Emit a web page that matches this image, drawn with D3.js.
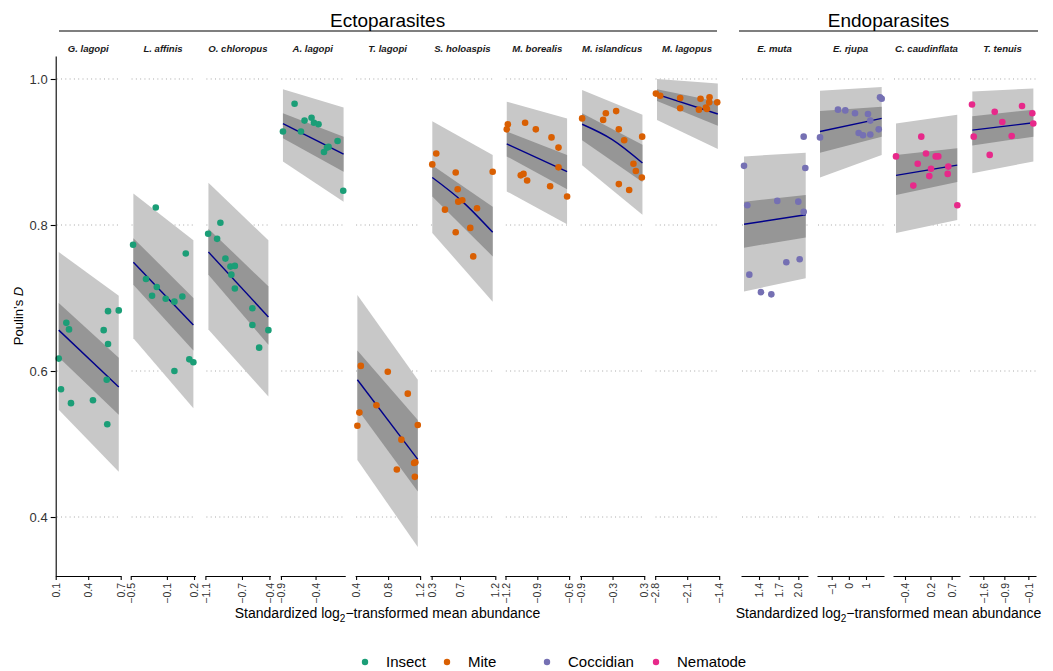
<!DOCTYPE html>
<meta charset="utf-8">
<script src="https://cdn.jsdelivr.net/npm/d3@7/dist/d3.min.js"></script>
<style>
  body { margin: 0; background: #fff; }
  text { font-family: "Liberation Sans", Arial, sans-serif; }
</style>
<svg width="1053" height="671"></svg>
<script>
// panels, left to right
var species = ["G. lagopi", "L. affinis", "O. chloropus", "A. lagopi", "T. lagopi",
  "S. holoaspis", "M. borealis", "M. islandicus", "M. lagopus",
  "E. muta", "E. rjupa", "C. caudinflata", "T. tenuis"];
var groups = ["Ectoparasites", "Endoparasites"];
var panelGroup = [0, 0, 0, 0, 0, 0, 0, 0, 0, 1, 1, 1, 1];
var parasite = ["Insect", "Insect", "Insect", "Insect", "Mite", "Mite", "Mite", "Mite", "Mite",
  "Coccidian", "Coccidian", "Nematode", "Nematode"];
var types = ["Insect", "Mite", "Coccidian", "Nematode"];
var typeColors = ["#1B9E77", "#D95F02", "#7570B3", "#E7298A"];

// x limits of every panel (free scales)
var xLimits = [[0.1, 0.7], [-0.502, 0.217], [-1.1, -0.389], [-0.91, 0.029], [0.3875, 1.2],
  [0.276, 1.195], [-1.2066, -0.5934], [-0.923, 0.308], [-2.815, -1.393],
  [1.125, 2.148], [-1.857, 2.05], [-0.683, 0.897], [-2.078, 0.155]];
var xTicks = [["0.1", "0.4", "0.7"], ["-0.5", "-0.1", "0.2"], ["-1.1", "-0.7", "-0.4"], ["-0.9", "-0.4"],
  ["0.4", "0.8", "1.2"], ["0.3", "0.7", "1.2"], ["-1.2", "-0.9", "-0.6"], ["-0.9", "-0.3", "0.3"],
  ["-2.8", "-2.1", "-1.4"], ["1.4", "1.7", "2.0"], ["-1", "0", "1"], ["-0.4", "0.2", "0.7"],
  ["-1.6", "-0.9", "-0.1"]];
var yTicks = [0.4, 0.6, 0.8, 1.0];

// fitted line and intervals, at first and last abundance
var bandX = [[0.128, 0.682], [-0.471, 0.193], [-1.067, -0.411], [-0.871, 0.005], [0.416, 1.171],
  [0.309, 1.163], [-1.188, -0.619], [-0.876, 0.266], [-2.76, -1.43],
  [1.171, 2.113], [-1.682, 1.915], [-0.612, 0.832], [-1.967, 0.067]];
var fit = [[0.656, 0.578], [0.749, 0.663], [0.763, 0.674], [0.939, 0.897], [0.588, 0.479],
  [0.865, 0.790], [0.911, 0.873], [0.938, 0.885], [0.979, 0.952],
  [0.801, 0.814], [0.928, 0.946], [0.868, 0.882], [0.930, 0.940]];
// fitted value half way, where the line bends
var fitBend = [null, null, null, null, null, 0.832, null, 0.917, null, null, null, null, null];
var ciLo = [[0.619, 0.540], [0.718, 0.628], [0.732, 0.636], [0.919, 0.873], [0.548, 0.435],
  [0.839, 0.757], [0.894, 0.849], [0.916, 0.859], [0.970, 0.936],
  [0.769, 0.783], [0.899, 0.921], [0.841, 0.859], [0.909, 0.921]];
var ciHi = [[0.693, 0.618], [0.782, 0.700], [0.795, 0.716], [0.953, 0.921], [0.628, 0.533],
  [0.882, 0.825], [0.928, 0.896], [0.953, 0.910], [0.986, 0.969],
  [0.832, 0.841], [0.956, 0.962], [0.896, 0.905], [0.949, 0.958]];
var piLo = [[0.547, 0.462], [0.645, 0.549], [0.657, 0.565], [0.887, 0.832], [0.478, 0.359],
  [0.789, 0.695], [0.846, 0.801], [0.882, 0.814], [0.944, 0.904],
  [0.709, 0.727], [0.865, 0.896], [0.789, 0.807], [0.871, 0.887]];
var piHi = [[0.763, 0.703], [0.843, 0.779], [0.858, 0.779], [0.986, 0.961], [0.704, 0.588],
  [0.942, 0.896], [0.969, 0.946], [0.985, 0.951], [1.0, 0.994],
  [0.894, 0.899], [0.984, 0.989], [0.939, 0.951], [0.983, 0.987]];

// observed values [abundance, D]
var ptsGLagopi = [[0.128, 0.617], [0.149, 0.575], [0.198, 0.666], [0.223, 0.657], [0.241, 0.556], [0.444, 0.560],
  [0.543, 0.656], [0.583, 0.682], [0.583, 0.637], [0.571, 0.588], [0.576, 0.527], [0.682, 0.683]];
var ptsLAffinis = [[-0.474, 0.773], [-0.223, 0.824], [-0.331, 0.726], [-0.212, 0.715], [-0.264, 0.703], [-0.113, 0.699],
  [-0.017, 0.695], [0.071, 0.702], [0.109, 0.761], [-0.017, 0.600], [0.148, 0.616], [0.193, 0.612]];
var ptsOChloropus = [[-1.070, 0.788], [-0.972, 0.781], [-0.936, 0.803], [-0.881, 0.754], [-0.826, 0.743], [-0.778, 0.744],
  [-0.816, 0.732], [-0.778, 0.713], [-0.586, 0.686], [-0.586, 0.663], [-0.411, 0.656], [-0.512, 0.632]];
var ptsALagopi = [[-0.871, 0.928], [-0.703, 0.966], [-0.611, 0.928], [-0.559, 0.943], [-0.458, 0.947], [-0.423, 0.940],
  [-0.357, 0.938], [-0.278, 0.900], [-0.235, 0.906], [-0.212, 0.907], [-0.082, 0.915], [0.0, 0.847]];
var ptsTLagopi = [[0.459, 0.607], [0.796, 0.599], [1.046, 0.569], [0.441, 0.543], [0.416, 0.525], [0.654, 0.553],
  [1.171, 0.526], [0.966, 0.506], [1.125, 0.474], [1.141, 0.475], [0.909, 0.465], [1.134, 0.455]];
var ptsSHoloaspis = [[0.365, 0.898], [0.309, 0.883], [0.640, 0.872], [1.163, 0.873], [0.668, 0.849], [0.676, 0.832],
  [0.733, 0.834], [0.488, 0.821], [0.941, 0.823], [0.846, 0.796], [0.640, 0.790], [0.888, 0.757]];
var ptsMBorealis = [[-1.178, 0.938], [-1.188, 0.931], [-1.015, 0.940], [-0.914, 0.931], [-0.766, 0.920], [-0.700, 0.906],
  [-0.700, 0.879], [-1.056, 0.868], [-1.030, 0.870], [-0.996, 0.861], [-0.779, 0.853], [-0.619, 0.839]];
var ptsMIslandicus = [[-0.876, 0.946], [-0.478, 0.944], [-0.427, 0.953], [-0.232, 0.956], [-0.181, 0.931], [-0.080, 0.916],
  [0.261, 0.921], [0.096, 0.884], [0.141, 0.874], [0.255, 0.865], [-0.181, 0.856], [0.015, 0.848]];
var ptsMLagopus = [[-2.784, 0.980], [-2.690, 0.977], [-2.253, 0.974], [-2.253, 0.960], [-1.808, 0.973], [-1.611, 0.975],
  [-1.618, 0.968], [-1.690, 0.961], [-1.843, 0.958], [-1.443, 0.968], [-1.668, 0.959]];
var ptsEMuta = [[1.171, 0.881], [1.221, 0.827], [1.252, 0.732], [1.430, 0.708], [1.588, 0.705], [1.679, 0.833],
  [1.817, 0.749], [2.000, 0.832], [2.021, 0.753], [2.082, 0.818], [2.107, 0.878], [2.082, 0.921]];
var ptsERjupa = [[-1.682, 0.920], [-0.633, 0.958], [-0.207, 0.957], [0.359, 0.953], [1.117, 0.952], [1.251, 0.943],
  [0.574, 0.926], [0.825, 0.923], [1.251, 0.924], [1.741, 0.931], [1.817, 0.975], [1.916, 0.973]];
var ptsCCaudinflata = [[-0.612, 0.894], [-0.016, 0.921], [0.095, 0.898], [0.324, 0.894], [0.385, 0.894], [-0.100, 0.884],
  [0.213, 0.877], [0.173, 0.867], [0.621, 0.880], [0.607, 0.870], [-0.204, 0.854], [0.834, 0.827]];
var ptsTTenuis = [[-1.978, 0.965], [-1.921, 0.921], [-1.388, 0.896], [-1.221, 0.955], [-0.968, 0.941], [-0.655, 0.922],
  [-0.311, 0.963], [0.032, 0.953], [0.065, 0.939]];
var points = [ptsGLagopi, ptsLAffinis, ptsOChloropus, ptsALagopi, ptsTLagopi, ptsSHoloaspis, ptsMBorealis,
  ptsMIslandicus, ptsMLagopus, ptsEMuta, ptsERjupa, ptsCCaudinflata, ptsTTenuis];

var svg = d3.select("svg");

// layout of the two facet blocks
var blocks = [
  { left: 55.7, step: 74.85, width: 65, lineFrom: 59, lineTo: 717 },
  { left: 741, step: 76, width: 67, lineFrom: 739, lineTo: 1038 }
];
var panelTop = 56, panelBottom = 576;

var y = d3.scaleLinear().domain([0.3192, 1.0315]).range([panelBottom, panelTop]);
var color = d3.scaleOrdinal().domain(types).range(typeColors);
var minus = function(s) { return s.replace("-", "\u2212"); };

var counter = [0, 0];

species.forEach(function(name, i) {
  var b = blocks[panelGroup[i]],
    k = counter[panelGroup[i]]++,
    x0 = b.left + k * b.step,
    x = d3.scaleLinear().domain(xLimits[i]).range([x0, x0 + b.width]);

  var g = svg.append("g");

  //grid
  g.selectAll("line.grid")
    .data(yTicks)
    .enter()
    .append("line")
    .attr("x1", x0 + 1)
    .attr("x2", x0 + b.width)
    .attr("y1", function(d) { return y(d); })
    .attr("y2", function(d) { return y(d); })
    .attr("stroke", "#a8a8a8")
    .attr("stroke-width", 1)
    .attr("stroke-dasharray", "1,3.3");

  var band = bandX[i].map(function(v, j) {
    return { x: v, piLo: piLo[i][j], piHi: piHi[i][j], ciLo: ciLo[i][j], ciHi: ciHi[i][j] };
  });

  //prediction interval
  g.append("path")
    .datum(band)
    .attr("fill", "#c8c8c8")
    .attr("d", d3.area()
      .x(function(d) { return x(d.x); })
      .y0(function(d) { return y(d.piLo); })
      .y1(function(d) { return y(d.piHi); }));

  //confidence interval
  g.append("path")
    .datum(band)
    .attr("fill", "#969696")
    .attr("d", d3.area()
      .x(function(d) { return x(d.x); })
      .y0(function(d) { return y(d.ciLo); })
      .y1(function(d) { return y(d.ciHi); }));

  //fitted line
  var fitPts = [[bandX[i][0], fit[i][0]]];
  if (fitBend[i] != null) fitPts.push([(bandX[i][0] + bandX[i][1]) / 2, fitBend[i]]);
  fitPts.push([bandX[i][1], fit[i][1]]);
  g.append("path")
    .datum(fitPts)
    .attr("fill", "none")
    .attr("stroke", "#00008B")
    .attr("stroke-width", 1.4)
    .attr("d", d3.line()
      .curve(d3.curveNatural)
      .x(function(d) { return x(d[0]); })
      .y(function(d) { return y(d[1]); }));

  //observations
  g.selectAll("circle")
    .data(points[i])
    .enter()
    .append("circle")
    .attr("cx", function(d) { return x(d[0]); })
    .attr("cy", function(d) { return y(d[1]); })
    .attr("r", 3.3)
    .attr("fill", color(parasite[i]));

  //strip label
  g.append("text")
    .attr("x", x0 + b.width / 2)
    .attr("y", 52)
    .attr("text-anchor", "middle")
    .style("font-size", "9.6px")
    .style("font-weight", "bold")
    .style("font-style", "italic")
    .attr("fill", "#1a1a1a")
    .text(name);

  //x axis
  var ax = g.append("g")
    .attr("transform", "translate(0," + panelBottom + ")")
    .call(d3.axisBottom(x)
      .tickValues(xTicks[i].map(Number))
      .tickFormat(function(d, j) { return minus(xTicks[i][j]); })
      .tickSize(4)
      .tickSizeOuter(0));
  ax.select(".domain").attr("stroke", "#000").attr("stroke-width", 1.1);
  ax.selectAll(".tick line").attr("stroke", "#000").attr("stroke-width", 1.1);
  ax.selectAll(".tick text")
    .attr("transform", "rotate(-90)")
    .attr("text-anchor", "end")
    .attr("x", -7)
    .attr("y", 0)
    .attr("dy", "0.35em")
    .attr("fill", "#333")
    .style("font-size", "10.5px")
    .style("font-family", "Liberation Sans, Arial, sans-serif");
});

//y axis
var ay = svg.append("g")
  .attr("transform", "translate(" + blocks[0].left + ",0)")
  .call(d3.axisLeft(y).tickValues(yTicks).tickFormat(d3.format(".1f")).tickSize(5).tickSizeOuter(0));
ay.select(".domain").attr("stroke", "#000").attr("stroke-width", 1.1);
ay.selectAll(".tick line").attr("stroke", "#000").attr("stroke-width", 1.1);
ay.selectAll(".tick text")
  .attr("x", -8)
  .attr("fill", "#333")
  .style("font-size", "13px")
  .style("font-family", "Liberation Sans, Arial, sans-serif");

//y-axis label
var yl = svg.append("text")
  .attr("transform", "translate(23," + (panelTop + panelBottom) / 2 + ") rotate(-90)")
  .attr("text-anchor", "middle")
  .style("font-size", "13px");
yl.append("tspan").text("Poulin\u2019s ");
yl.append("tspan").style("font-style", "italic").text("D");

//group titles, lines and x labels
blocks.forEach(function(b, gi) {
  var n = panelGroup.filter(function(p) { return p == gi; }).length,
    right = b.left + (n - 1) * b.step + b.width,
    mid = (b.left + right) / 2;

  svg.append("text")
    .attr("x", mid)
    .attr("y", 26.5)
    .attr("text-anchor", "middle")
    .style("font-size", "19px")
    .text(groups[gi]);

  svg.append("line")
    .attr("x1", b.lineFrom)
    .attr("x2", b.lineTo)
    .attr("y1", 31)
    .attr("y2", 31)
    .attr("stroke", "#000")
    .attr("stroke-width", 1.2);

  var xl = svg.append("text")
    .attr("x", mid)
    .attr("y", 618)
    .attr("text-anchor", "middle")
    .style("font-size", "14px");
  xl.append("tspan").text("Standardized log");
  xl.append("tspan").attr("dy", 4).style("font-size", "10px").text("2");
  xl.append("tspan").attr("dy", -4).text("\u2212transformed mean abundance");
});

//legend
var legendX = [365, 447, 547, 656];
var lg = svg.append("g")
  .selectAll("g")
  .data(types)
  .enter()
  .append("g")
  .attr("transform", function(d, i) { return "translate(" + legendX[i] + ",662)"; });
lg.append("circle")
  .attr("r", 3.2)
  .attr("fill", function(d) { return color(d); });
lg.append("text")
  .attr("x", 21)
  .attr("y", 5.3)
  .style("font-size", "15px")
  .text(function(d) { return d; });
</script>
